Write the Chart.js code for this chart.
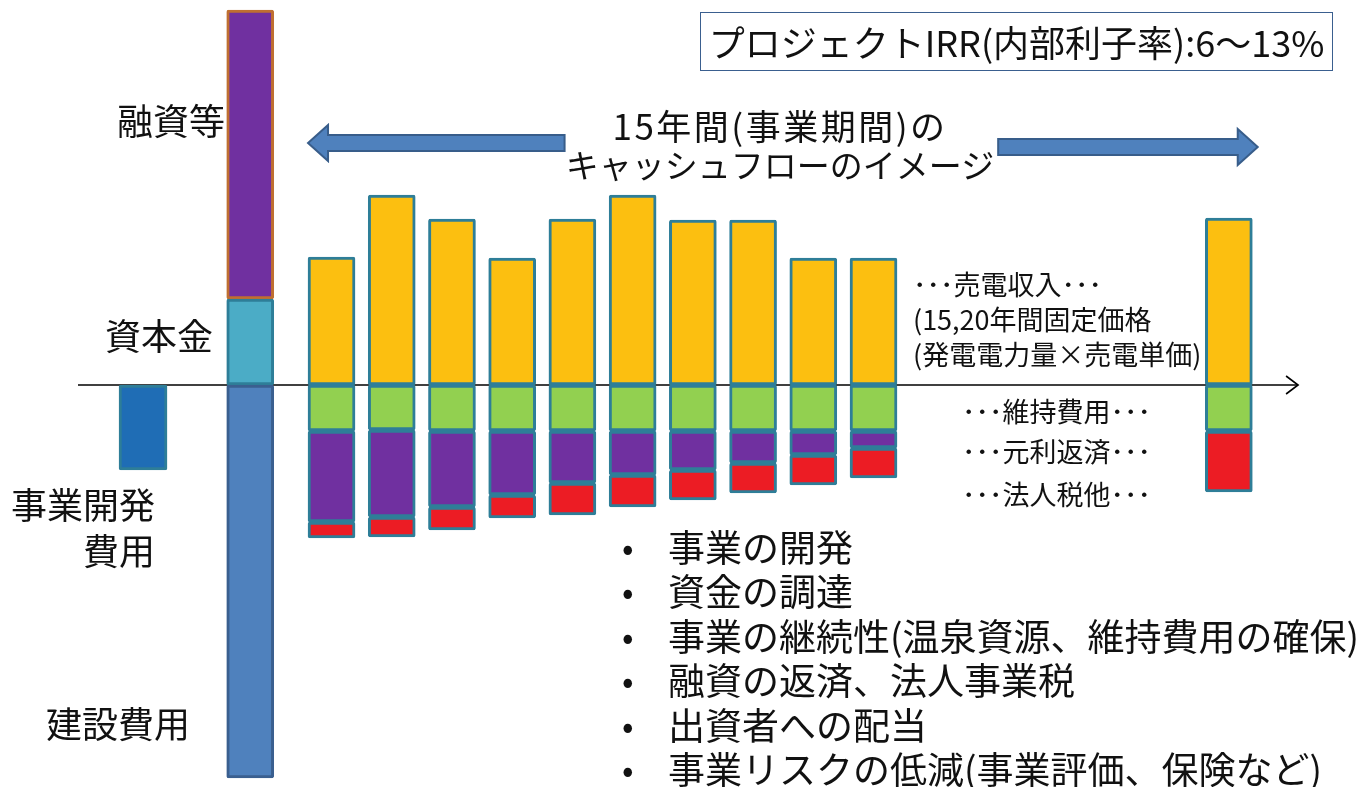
<!DOCTYPE html>
<html lang="ja">
<head>
<meta charset="utf-8">
<title>15年間のキャッシュフローのイメージ</title>
<script src="https://cdn.jsdelivr.net/npm/chart.js@4.4.1/dist/chart.umd.min.js"></script>
<style>
  html, body { margin: 0; padding: 0; background: #fff; }
  #wrap { position: relative; width: 1363px; height: 787px; overflow: hidden;
          font-family: 'Noto Sans CJK JP', 'Noto Sans', sans-serif; color: #111; }
  #chart { position: absolute; left: 0; top: 0; }
  .lbl { position: absolute; white-space: nowrap; line-height: 1; }
  .left { font-size: 36px; text-align: right; }
  .side { font-size: 27px; }
  #irr { position: absolute; left: 700px; top: 12px; width: 631px; height: 57px;
         border: 1.5px solid #3a5f8f; font-size: 36px; line-height: 57px; text-align: center; white-space: nowrap; }
  #title { position: absolute; left: 480px; top: 106px; width: 600px; text-align: center;
           font-size: 33px; line-height: 38px; }
  #title .l1 { font-size: 35px; letter-spacing: 2.5px; }
  #points { position: absolute; left: 622px; top: 524px; margin: 0; padding: 0; list-style: none;
            font-size: 37px; }
  #points li { position: relative; white-space: nowrap; height: 44.4px; line-height: 44.4px; padding-left: 46px; }
  #points li::before { content: '•'; position: absolute; left: 0; top: 0; font-size: 34px; }
</style>
</head>
<body>
<div id="wrap">
  <canvas id="chart" width="1363" height="787"></canvas>

  <div id="irr">プロジェクトIRR(内部利子率):6～13%</div>
  <div id="title"><span class="l1">15年間(事業期間)の</span><br>キャッシュフローのイメージ</div>

  <div class="lbl left" style="right:1138px; top:101px;">融資等</div>
  <div class="lbl left" style="right:1150px; top:316px;">資本金</div>
  <div class="lbl left" style="right:1208px; top:485px;">事業開発</div>
  <div class="lbl left" style="right:1208px; top:531px;">費用</div>
  <div class="lbl left" style="right:1173px; top:704px;">建設費用</div>

  <div class="lbl side" style="left:913px; top:270px;">･･･売電収入･･･</div>
  <div class="lbl side" style="left:913px; top:305px;">(15,20年間固定価格</div>
  <div class="lbl side" style="left:913px; top:340px;">(発電電力量×売電単価)</div>
  <div class="lbl side" style="left:962px; top:397px;">･･･維持費用･･･</div>
  <div class="lbl side" style="left:962px; top:437px;">･･･元利返済･･･</div>
  <div class="lbl side" style="left:962px; top:480px;">･･･法人税他･･･</div>

  <ul id="points">
    <li>事業の開発</li>
    <li>資金の調達</li>
    <li>事業の継続性(温泉資源、維持費用の確保)</li>
    <li>融資の返済、法人事業税</li>
    <li>出資者への配当</li>
    <li>事業リスクの低減(事業評価、保険など)</li>
  </ul>
</div>

<script>
// time axis: year slots (1..10 shown, then the final year drawn further right)
const yearPos = [1, 2, 3, 4, 5, 6, 7, 8, 9, 10, 15.9];
const yearLabels = ['1年', '2年', '3年', '4年', '5年', '6年', '7年', '8年', '9年', '10年', '15年'];

// yearly cash flow (arbitrary units)
const revenue   = [12.8, 19.0, 16.6, 12.7, 16.6, 19.0, 16.5, 16.5, 12.7, 12.7, 16.7];
const upkeep    = [4.6, 4.5, 4.6, 4.6, 4.6, 4.6, 4.6, 4.6, 4.6, 4.6, 4.6];
const repayment = [9.1, 8.7, 7.6, 6.4, 5.2, 4.4, 3.9, 3.2, 2.4, 1.7, 0];
const taxes     = [1.6, 2.0, 2.3, 2.3, 3.2, 3.2, 3.0, 3.0, 3.0, 3.0, 6.1];

// initial investment
const startPos   = [-2.13, -0.35];          // 事業開発, 建設
const devCost    = [8.5];
const buildCost  = [39.3];
const equity     = [8.6];
const loans      = [28.9];

// horizontal time axis extent
const axisRange = [-3.21, 17.05];

const EDGE = '#2e7e98';

const revenueBars = yearPos.map((x, i) => ({ x, y: [0, revenue[i]] }));
const upkeepBars = yearPos.map((x, i) => ({ x, y: [0, -upkeep[i]] }));
const repayBars = yearPos
  .map((x, i) => ({ x, y: [-upkeep[i], -upkeep[i] - repayment[i]], v: repayment[i] }))
  .filter(d => d.v > 0);
const taxBars = yearPos.map((x, i) => {
  const top = -upkeep[i] - repayment[i];
  return { x, y: [top, top - taxes[i]] };
});

function barSet(label, data, fill, edge, width) {
  return {
    type: 'bar', label, data,
    backgroundColor: fill, borderColor: edge, borderWidth: 3,
    borderSkipped: false, borderRadius: 2,
    barThickness: width || 47, grouped: false, order: 1
  };
}

const decorPlugin = {
  id: 'decor',
  afterDatasetsDraw(chart) {
    const { ctx, scales: { x, y } } = chart;
    // arrow head on the time axis
    const ex = x.getPixelForValue(axisRange[1]);
    const ey = y.getPixelForValue(0);
    ctx.save();
    ctx.strokeStyle = '#000';
    ctx.lineWidth = 1.6;
    ctx.beginPath();
    ctx.moveTo(ex - 12, ey - 9);
    ctx.lineTo(ex, ey);
    ctx.lineTo(ex - 12, ey + 9);
    ctx.stroke();

    // block arrows for the 15 year period
    blockArrow(ctx, x.getPixelForValue(4.87), x.getPixelForValue(0.61), y.getPixelForValue(24.2));
    blockArrow(ctx, x.getPixelForValue(12.07), x.getPixelForValue(16.38), y.getPixelForValue(23.8));
    ctx.restore();
  }
};

function blockArrow(ctx, tail, tip, cy) {
  const dir = tip > tail ? 1 : -1;
  const shaft = 8, head = 18, headLen = 20;
  const neck = tip - dir * headLen;
  ctx.beginPath();
  ctx.moveTo(tail, cy - shaft);
  ctx.lineTo(neck, cy - shaft);
  ctx.lineTo(neck, cy - head);
  ctx.lineTo(tip, cy);
  ctx.lineTo(neck, cy + head);
  ctx.lineTo(neck, cy + shaft);
  ctx.lineTo(tail, cy + shaft);
  ctx.closePath();
  ctx.fillStyle = '#4f81bd';
  ctx.fill();
  ctx.strokeStyle = '#385d8a';
  ctx.lineWidth = 2;
  ctx.stroke();
}

new Chart(document.getElementById('chart'), {
  type: 'bar',
  data: {
    datasets: [
      {
        type: 'line', label: 'axis',
        data: axisRange.map(v => ({ x: v, y: 0 })),
        borderColor: '#000', borderWidth: 1.6, pointRadius: 0, order: 10
      },
      barSet('事業開発費用', [{ x: startPos[0], y: [0, -devCost[0]] }], '#1f6db5', EDGE, 48),
      barSet('建設費用', [{ x: startPos[1], y: [0, -buildCost[0]] }], '#4f81bd', '#3a5f8f'),
      barSet('資本金', [{ x: startPos[1], y: [0, equity[0]] }], '#4bacc6', EDGE),
      barSet('融資等', [{ x: startPos[1], y: [equity[0], equity[0] + loans[0]] }], '#7030a0', '#bf6f31'),
      barSet('売電収入', revenueBars, '#fcbf10', EDGE),
      barSet('維持費用', upkeepBars, '#92d050', EDGE),
      barSet('元利返済', repayBars, '#7030a0', EDGE),
      barSet('法人税他', taxBars, '#ec1c24', EDGE)
    ]
  },
  options: {
    responsive: false,
    animation: false,
    devicePixelRatio: 1,
    layout: { padding: 0 },
    plugins: { legend: { display: false }, tooltip: { enabled: false } },
    scales: {
      x: { type: 'linear', min: -4.505, max: 18.128, offset: false, display: false },
      y: { min: -40.2, max: 38.5, display: false }
    }
  },
  plugins: [decorPlugin]
});
</script>
</body>
</html>
